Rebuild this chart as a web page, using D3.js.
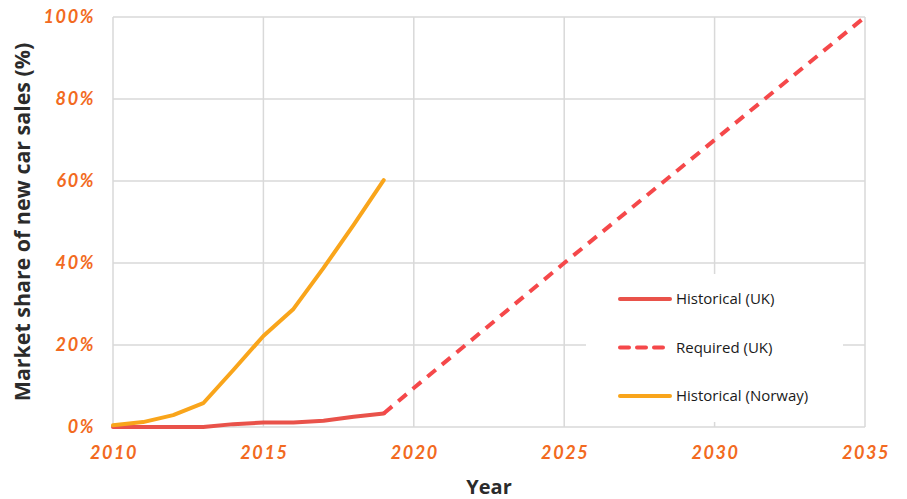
<!DOCTYPE html>
<html>
<head>
<meta charset="utf-8">
<script src="https://cdn.jsdelivr.net/npm/d3@7"></script>
<style>
  body { margin: 0; background: #fff; }
  .grid line { stroke: #d9d9d9; stroke-width: 1.5; }
  .tick-label { fill: #f26a21; font-family: Lato, sans-serif; font-weight: 700; font-style: italic; font-size: 18px; letter-spacing: 1.6px; }
  .title { fill: #2b2b2b; font-family: "Open Sans", sans-serif; font-weight: 700; font-size: 20px; }
  .legend text { fill: #1a1a1a; font-family: "Open Sans", sans-serif; font-size: 15px; }
</style>
</head>
<body>
<div id="chart"></div>
<script>
// year values
var ukYears = [2010, 2011, 2012, 2013, 2014, 2015, 2016, 2017, 2018, 2019];
var ukShare = [0, 0, 0, 0, 0.7, 1.1, 1.1, 1.5, 2.5, 3.3];

var requiredYears = [2019, 2020, 2025, 2030, 2035];
var requiredShare = [3.3, 9.5, 40, 70, 100];

var norwayYears = [2010, 2011, 2012, 2013, 2014, 2015, 2016, 2017, 2018, 2019];
var norwayShare = [0.4, 1.2, 2.9, 5.8, 13.9, 22.2, 28.8, 38.8, 49.3, 60.2];

var xTicks = [2010, 2015, 2020, 2025, 2030, 2035];
var yTicks = [0, 20, 40, 60, 80, 100];

var legendLabels = ["Historical (UK)", "Required (UK)", "Historical (Norway)"];

var w = 907, h = 499;
var margin = {top: 17, right: 42, bottom: 72, left: 113};

var svg = d3.select("#chart").append("svg")
    .attr("width", w)
    .attr("height", h);

var x = d3.scaleLinear().domain([2010, 2035]).range([margin.left, w - margin.right]);
var y = d3.scaleLinear().domain([0, 100]).range([h - margin.bottom, margin.top]);

// gridlines
var grid = svg.append("g").attr("class", "grid");
grid.selectAll(".h").data(yTicks).enter().append("line")
    .attr("x1", x(2010)).attr("x2", x(2035))
    .attr("y1", function (d) { return y(d); })
    .attr("y2", function (d) { return y(d); });
grid.selectAll(".v").data(xTicks).enter().append("line")
    .attr("x1", function (d) { return x(d); })
    .attr("x2", function (d) { return x(d); })
    .attr("y1", y(0)).attr("y2", y(100));

// tick labels
svg.selectAll(".ylab").data(yTicks).enter().append("text")
    .attr("class", "tick-label")
    .attr("x", x(2010) - 18)
    .attr("y", function (d) { return y(d); })
    .attr("dy", "0.35em")
    .attr("text-anchor", "end")
    .text(function (d) { return d + "%"; });

svg.selectAll(".xlab").data(xTicks).enter().append("text")
    .attr("class", "tick-label")
    .attr("x", function (d) { return x(d) + 1; })
    .attr("y", y(0) + 32)
    .attr("text-anchor", "middle")
    .text(function (d) { return d; });

// axis titles
svg.append("text")
    .attr("class", "title")
    .style("font-size", "21.4px")
    .attr("transform", "translate(30," + ((y(0) + y(100)) / 2) + ") rotate(-90)")
    .attr("text-anchor", "middle")
    .text("Market share of new car sales (%)");

svg.append("text")
    .attr("class", "title")
    .attr("x", 489)
    .attr("y", 494)
    .attr("text-anchor", "middle")
    .text("Year");

// legend box (white, hides the grid behind it)
var legendX = 586, legendY = 274;
svg.append("rect")
    .attr("x", legendX).attr("y", legendY)
    .attr("width", 257).attr("height", 148)
    .attr("fill", "#fff");

var line = d3.line()
    .x(function (d) { return x(d[0]); })
    .y(function (d) { return y(d[1]); });

var series = [
    {years: ukYears, vals: ukShare, color: "#e9524a", dash: null},
    {years: requiredYears, vals: requiredShare, color: "#f5484a", dash: "11,8"},
    {years: norwayYears, vals: norwayShare, color: "#f9a51b", dash: null}
];

series.forEach(function (s) {
    svg.append("path")
        .datum(d3.zip(s.years, s.vals))
        .attr("d", line)
        .attr("fill", "none")
        .attr("stroke", s.color)
        .attr("stroke-width", 4)
        .attr("stroke-linejoin", "round")
        .attr("stroke-linecap", s.dash ? "butt" : "round")
        .attr("stroke-dasharray", s.dash);
});

// legend
var legend = svg.append("g").attr("class", "legend");
series.forEach(function (s, i) {
    var ly = 299 + i * 48.5;
    legend.append("line")
        .attr("x1", 620).attr("x2", 670)
        .attr("y1", ly).attr("y2", ly)
        .attr("stroke", s.color)
        .attr("stroke-width", 4)
        .attr("stroke-linecap", "round")
        .attr("stroke-dasharray", s.dash ? "9,8" : null);
    legend.append("text")
        .attr("x", 676)
        .attr("y", ly)
        .attr("dy", "0.35em")
        .text(legendLabels[i]);
});
</script>
</body>
</html>
